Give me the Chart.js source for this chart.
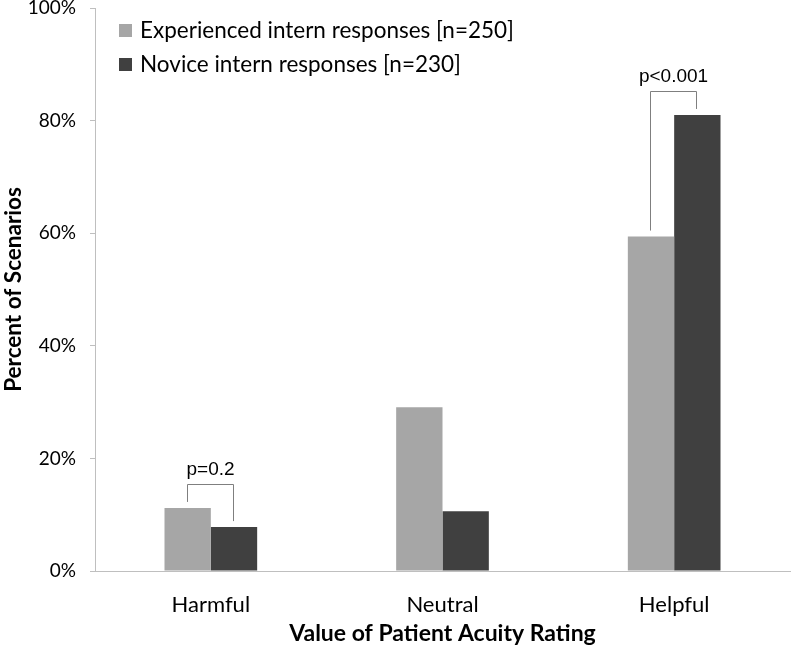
<!DOCTYPE html>
<html>
<head>
<meta charset="utf-8">
<script src="https://cdn.jsdelivr.net/npm/chart.js@4/dist/chart.umd.min.js"></script>
<style>
  html, body { margin: 0; padding: 0; background: #fff; }
  #wrap { width: 793px; height: 648px; position: relative; }
</style>
</head>
<body>
<div id="wrap"><canvas id="chart"></canvas></div>
<script>
const categories = ['Harmful', 'Neutral', 'Helpful'];
const experienced = [11.2, 29.1, 59.4];
const novice = [7.8, 10.6, 81.0];
const seriesLabels = ['Experienced intern responses [n=250]', 'Novice intern responses [n=230]'];
const yTicks = [0, 20, 40, 60, 80, 100];
// significance brackets: category index and label
const brackets = [
  { index: 0, text: 'p=0.2' },
  { index: 2, text: 'p<0.001' }
];

const FONT = 'Lato, "Open Sans", sans-serif';
const colors = ['#a6a6a6', '#404040'];

const overlay = {
  id: 'overlay',
  afterDatasetsDraw(chart) {
    const ctx = chart.ctx;
    const a = chart.chartArea;
    ctx.save();

    // legend inside plot, top-left
    seriesLabels.forEach((lab, i) => {
      const y = a.top + 23 + i * 34;
      ctx.fillStyle = colors[i];
      ctx.fillRect(a.left + 24, y - 7, 13, 13);
      ctx.fillStyle = '#000';
      ctx.font = '22.5px ' + FONT;
      ctx.textBaseline = 'middle';
      ctx.textAlign = 'left';
      ctx.fillText(lab, a.left + 45, y);
    });

    // brackets
    const m0 = chart.getDatasetMeta(0), m1 = chart.getDatasetMeta(1);
    ctx.strokeStyle = '#7f7f7f';
    ctx.lineWidth = 1;
    brackets.forEach(b => {
      const e0 = m0.data[b.index], e1 = m1.data[b.index];
      const x0 = Math.round(e0.x) - 0.5, x1 = Math.round(e1.x) - 0.5;
      const top = Math.min(e0.y, e1.y) - 24;
      ctx.beginPath();
      ctx.moveTo(x0, e0.y - 6);
      ctx.lineTo(x0, Math.round(top) + 0.5);
      ctx.lineTo(x1, Math.round(top) + 0.5);
      ctx.lineTo(x1, e1.y - 6);
      ctx.stroke();
      ctx.fillStyle = '#000';
      ctx.font = '19px "Liberation Sans", Arial, sans-serif';
      ctx.textAlign = 'center';
      ctx.textBaseline = 'middle';
      ctx.fillText(b.text, (x0 + x1) / 2, top - 14);
    });
    ctx.restore();
  }
};

new Chart(document.getElementById('chart'), {
  type: 'bar',
  data: {
    labels: categories,
    datasets: [
      { label: seriesLabels[0], data: experienced, backgroundColor: colors[0], categoryPercentage: 0.4, barPercentage: 1.0 },
      { label: seriesLabels[1], data: novice, backgroundColor: colors[1], categoryPercentage: 0.4, barPercentage: 1.0 }
    ]
  },
  options: {
    responsive: true,
    maintainAspectRatio: false,
    animation: false,
    layout: { padding: { top: 8, right: 3, left: 0, bottom: 0 } },
    plugins: { legend: { display: false }, tooltip: { enabled: false } },
    scales: {
      x: {
        grid: { display: false, drawTicks: false },
        border: { color: '#bfbfbf' },
        ticks: { color: '#000', font: { family: FONT, size: 22 }, padding: 21 },
        title: { display: true, text: 'Value of Patient Acuity Rating', color: '#000',
                 font: { family: FONT, size: 23, weight: 'bold' }, padding: { top: 0, bottom: 1 } },
        afterFit(s) { s.height = 77; s.paddingLeft = 0; s.paddingRight = 0; }
      },
      y: {
        min: 0, max: 100,
        afterBuildTicks(s) { s.ticks = yTicks.map(v => ({ value: v })); },
        grid: { drawOnChartArea: false, tickLength: 5, color: '#bfbfbf' },
        border: { color: '#bfbfbf' },
        ticks: { color: '#000', font: { family: FONT, size: 19 }, padding: 14, callback: v => v + '%' },
        title: { display: true, text: 'Percent of Scenarios', color: '#000',
                 font: { family: FONT, size: 22.5, weight: 'bold' }, padding: { top: 0, bottom: 0 } },
        afterFit(s) { s.width = 95; s.paddingTop = 0; s.paddingBottom = 0; }
      }
    }
  },
  plugins: [overlay]
});
</script>
</body>
</html>
